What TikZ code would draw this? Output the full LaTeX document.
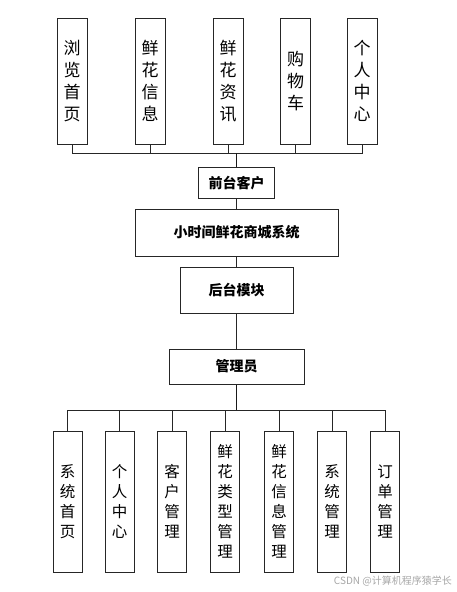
\documentclass[tikz,border=0pt]{standalone}
\usepackage{fontspec}
\setmainfont{Noto Sans CJK SC}
\newfontfamily\cjk{Noto Sans CJK SC}
\begin{document}
\begin{tikzpicture}[x=1pt,y=-1pt,
  topbox/.style={draw=black!85,line width=1pt,minimum width=30pt,minimum height=126pt,inner sep=0pt,align=center,font=\cjk\fontsize{17}{22}\selectfont},
  botbox/.style={draw=black!85,line width=1pt,minimum width=29pt,minimum height=141pt,inner sep=0pt,align=center,font=\cjk\fontsize{15.5}{20}\selectfont},
  midbox/.style={draw=black!85,line width=1pt,inner sep=0pt,align=center,font=\cjk\bfseries\fontsize{14}{16}\selectfont},
  link/.style={line width=0.8pt,draw=black!85},
  trunk/.style={line width=1.3pt,draw=black!90}]
\useasboundingbox (0,0) rectangle (456,592);
\node[topbox] (t1) at (72,81) {浏\\览\\首\\页};
\node[topbox] (t2) at (150,81) {鲜\\花\\信\\息};
\node[topbox] (t3) at (228,81) {鲜\\花\\资\\讯};
\node[topbox] (t4) at (295.5,81) {购\\物\\车};
\node[topbox] (t5) at (362,81) {个\\人\\中\\心};
\node[midbox,minimum width=76pt,minimum height=31pt] (front) at (236.5,183) {前台客户};
\node[midbox,minimum width=203pt,minimum height=47pt] (sys) at (236.5,232.5) {小时间鲜花商城系统};
\node[midbox,minimum width=113pt,minimum height=46pt] (back) at (236.5,290) {后台模块};
\node[midbox,minimum width=135pt,minimum height=35pt] (admin) at (236.5,366.5) {管理员};
\node[botbox] (b1) at (67.5,501.5) {系\\统\\首\\页};
\node[botbox] (b2) at (119.5,501.5) {个\\人\\中\\心};
\node[botbox] (b3) at (172,501.5) {客\\户\\管\\理};
\node[botbox] (b4) at (225,501.5) {鲜\\花\\类\\型\\管\\理};
\node[botbox] (b5) at (279,501.5) {鲜\\花\\信\\息\\管\\理};
\node[botbox] (b6) at (332,501.5) {系\\统\\管\\理};
\node[botbox] (b7) at (385,501.5) {订\\单\\管\\理};
\coordinate (jt) at (236.5,153);
\coordinate (jb) at (236.5,410);
\foreach \n in {t1,t2,t3,t4,t5} \draw[link] (\n.south) |- (jt);
\draw[trunk] (jt) -- (front.north);
\draw[link] (front.south) -- (sys.north);
\draw[link] (sys.south) -- (back.north);
\draw[link] (back.south) -- (admin.north);
\draw[trunk] (admin.south) -- (jb);
\foreach \n in {b1,b2,b3,b4,b5,b6,b7} \draw[link] (\n.north) |- (jb);
\node[font=\cjk\fontsize{10}{11}\selectfont,text=black!35,anchor=east,inner sep=0pt] (wm) at (452,581) {CSDN @计算机程序猿学长};
\end{tikzpicture}
\end{document}
